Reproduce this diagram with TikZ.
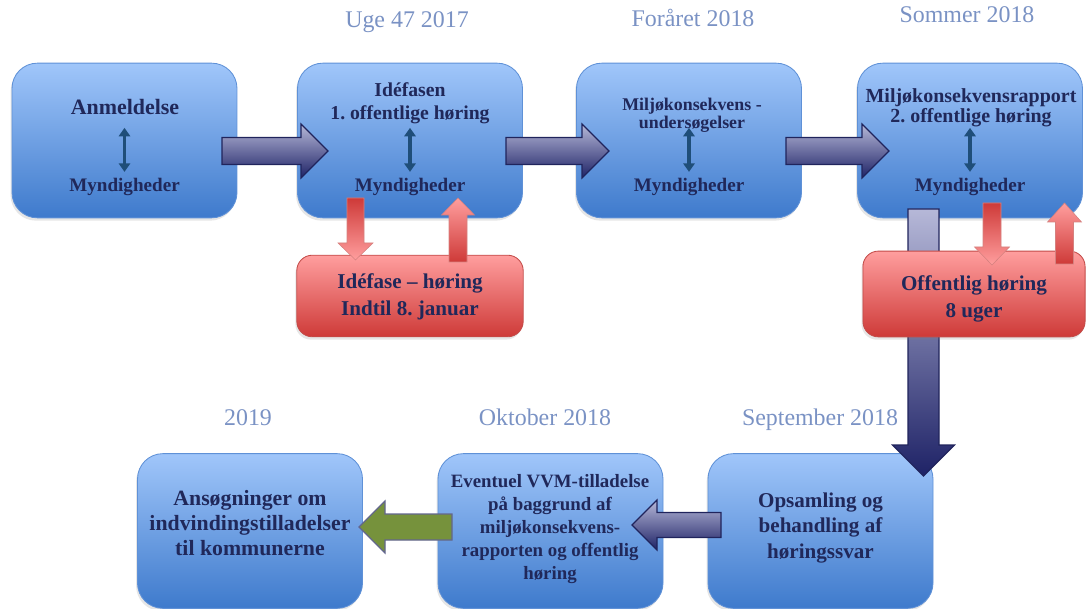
\documentclass[tikz,border=0pt]{standalone}
\usepackage{fontspec}
\setmainfont{Liberation Serif}
\frenchspacing
\usetikzlibrary{arrows.meta,shadows,positioning}
\definecolor{boxtop}{RGB}{160,198,250}
\definecolor{boxbot}{RGB}{62,122,204}
\definecolor{boxline}{RGB}{95,145,215}
\definecolor{redtop}{RGB}{255,158,158}
\definecolor{redbot}{RGB}{206,58,56}
\definecolor{redline}{RGB}{195,75,72}
\definecolor{lavtop}{RGB}{182,184,216}
\definecolor{lavbot}{RGB}{30,34,102}
\definecolor{navy}{RGB}{32,36,92}
\definecolor{olive}{RGB}{118,146,60}
\definecolor{txt}{RGB}{32,40,90}
\definecolor{datecol}{RGB}{122,146,196}
\definecolor{steel}{RGB}{31,78,121}

\tikzset{
  phase/.style={draw=boxline, line width=0.6pt, rounded corners=18pt,
    top color=boxtop, bottom color=boxbot,
    minimum width=160pt, minimum height=110pt,
    drop shadow={shadow xshift=-1pt, shadow yshift=-2pt, opacity=.2}},
  hearing/.style={draw=redline, line width=0.6pt, rounded corners=11pt,
    top color=redtop, bottom color=redbot,
    drop shadow={shadow xshift=-1pt, shadow yshift=-2pt, opacity=.2}},
  txtbase/.style={text=txt, align=center, inner sep=0pt},
  date/.style={text=datecol, inner sep=0pt, anchor=base,
    font=\fontsize{17}{20}\selectfont},
  myn/.style={txtbase, anchor=base, font=\bfseries\fontsize{13.6}{16}\selectfont},
  updown/.style={draw=steel, line width=2.6pt,
    {Triangle[width=8pt,length=6pt]}-{Triangle[width=8pt,length=6pt]}},
  flow/.style={draw=navy, line width=0.8pt, top color=lavtop, bottom color=lavbot},
  leafy/.style={draw=navy!70, line width=0.8pt, fill=olive},
  reddown/.style={draw=redline!70, line width=0.4pt, top color=redbot, bottom color=redtop},
  redup/.style={draw=redline!70, line width=0.4pt, top color=redtop, bottom color=redbot}
}

% block arrows: style, from, to, centre line, shaft half, head half, head length (signed)
\newcommand{\harr}[7]{\path[#1] (#2,#4-#5) -- ({#3-(#7)},#4-#5) -- ({#3-(#7)},#4-#6) -- (#3,#4)
  -- ({#3-(#7)},#4+#6) -- ({#3-(#7)},#4+#5) -- (#2,#4+#5) -- cycle;}
\newcommand{\varr}[7]{\path[#1] (#2-#5,#3) -- (#2-#5,{#4-(#7)}) -- (#2-#6,{#4-(#7)}) -- (#2,#4)
  -- (#2+#6,{#4-(#7)}) -- (#2+#5,{#4-(#7)}) -- (#2+#5,#3) -- cycle;}

\begin{document}
\begin{tikzpicture}[x=0.025cm, y=-0.025cm]
  \useasboundingbox (0,0) rectangle (1090,609);

  % top row
  \node [phase] (anm) at (124.5,140.5) {};
  \node [phase] (ide) at (410,140.5) {};
  \node [phase] (mkv) at (689,140.5) {};
  \node [phase] (mkr) at (970,140.5) {};

  % bottom row
  \node [phase] (soeg) at (250,531) {};
  \node [phase] (vvm) at (550.5,531) {};
  \node [phase] (opsam) at (820.5,531) {};

  % into the hearing box, behind it
  \varr{flow}{923.5}{209}{476}{15.5}{31}{31}

  \node [hearing, minimum width=161pt, minimum height=58pt] (hoer1) at (410,296) {};
  \node [hearing, minimum width=158pt, minimum height=61pt] (hoer2) at (974,294) {};

  \varr{reddown}{355.5}{198}{260}{8.5}{17.5}{17}
  \varr{redup}{458}{262}{198}{9}{16.5}{-17}
  \varr{reddown}{992}{203}{265}{9}{17.5}{18}
  \varr{redup}{1064.5}{264}{203}{9}{17}{-19}

  \harr{flow}{222}{328}{151}{13.5}{27}{27}
  \harr{flow}{506}{609}{151}{13.5}{27}{27}
  \harr{flow}{786}{889}{151}{13.5}{27}{27}
  \harr{flow}{721}{632}{525}{12.5}{25}{-25}
  \harr{leafy}{452}{359}{527}{13}{26}{-26}

  % dates
  \node [date] (d1) at (407,28) {Uge 47 2017};
  \node [date] (d2) at (693,27) {Foråret 2018};
  \node [date] (d3) at (967,23) {Sommer 2018};
  \node [date] (d4) at (248,425) {2019};
  \node [date] (d5) at (545,425) {Oktober 2018};
  \node [date] (d6) at (820,425) {September 2018};

  % box texts
  \node [txtbase, anchor=base, font=\bfseries\fontsize{15.6}{18}\selectfont] (t-anm) at (125,115) {Anmeldelse};
  \node [txtbase, font=\bfseries\fontsize{14}{16.4}\selectfont] (t-ide) at (410,103) {Idéfasen\\1. offentlige høring};
  \node [txtbase, font=\bfseries\fontsize{12.7}{11.2}\selectfont] (t-mkv) at (692,115) {Miljøkonsekvens -\\undersøgelser};
  \node [txtbase, font=\bfseries\fontsize{14.2}{14.5}\selectfont] (t-mkr) at (971,108) {Miljøkonsekvensrapport\\2. offentlige høring};

  \foreach \b/\x in {1/124.5, 2/410, 3/689, 4/970} {
    \node [myn] (m\b) at (\x,192) {Myndigheder};
    \draw [updown] (m\b.north) ++(0,-6.6) -- ++(0,-44);
  }

  \node [txtbase, font=\bfseries\fontsize{15}{19.2}\selectfont] (t-h1) at (410,296.5) {Idéfase – høring\\Indtil 8. januar};
  \node [txtbase, font=\bfseries\fontsize{15}{19.2}\selectfont] (t-h2) at (974,298.5) {Offentlig høring\\8 uger};

  \node [txtbase, font=\bfseries\fontsize{15.5}{18}\selectfont] (t-soeg) at (250,523) {Ansøgninger om\\indvindingstilladelser\\til kommunerne};
  \node [txtbase, font=\bfseries\fontsize{13.4}{16.5}\selectfont] (t-vvm) at (550,529) {Eventuel VVM-tilladelse\\på baggrund af\\miljøkonsekvens-\\rapporten og offentlig\\høring};
  \node [txtbase, font=\bfseries\fontsize{15}{17.8}\selectfont] (t-opsam) at (820.5,528) {Opsamling og\\behandling af\\høringssvar};
\end{tikzpicture}
\end{document}
